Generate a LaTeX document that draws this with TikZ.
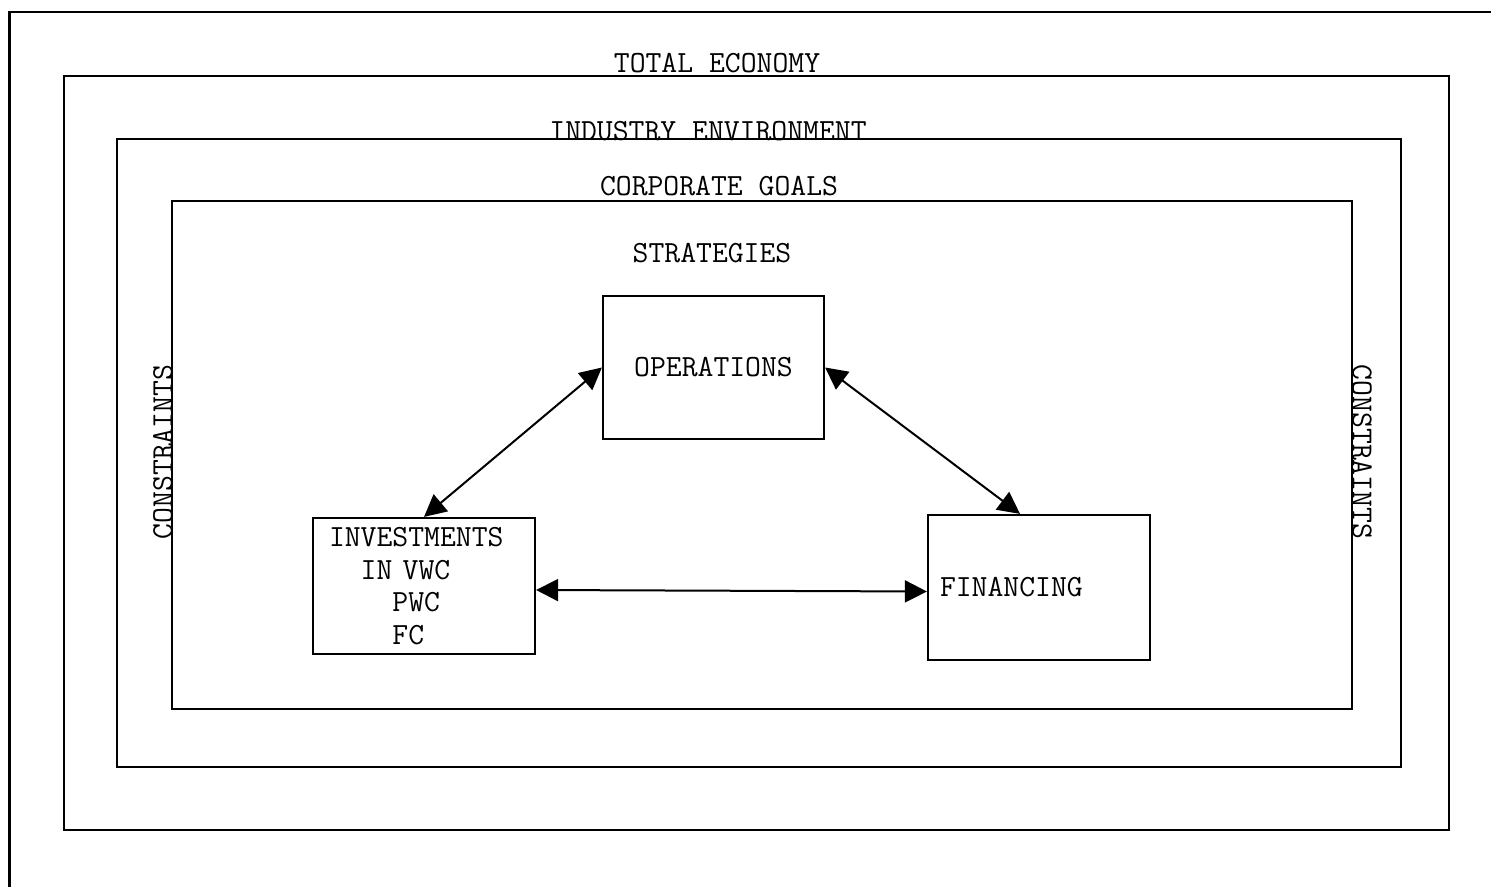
\documentclass[tikz,border=0pt]{standalone}
\usetikzlibrary{arrows.meta,calc}
\begin{document}
\begin{tikzpicture}[x=0.5pt,y=-0.5pt,
  frame/.style={line width=1.1pt},
  tw/.style={font=\fontsize{15.4}{16.3}\selectfont\ttfamily, inner sep=0pt},
  box/.style={draw, line width=1.1pt, tw, inner sep=0pt},
  link/.style={line width=1pt,
    {Triangle[length=11pt,width=11pt]}-{Triangle[length=11pt,width=11pt]}}]
\useasboundingbox (0,0) rectangle (1491,887);
\fill[white] (0,0) rectangle (1491,887);

% nested environment frames
\draw[frame] (1491,12) -- (9.5,12) -- (9.5,887);
\draw[frame] (64,76) rectangle (1449,830);
\draw[frame] (117,139) rectangle (1401,767);
\draw[frame] (172,201) rectangle (1352,709);

% frame labels
\node[tw] (econ) at (717,63) {TOTAL ECONOMY};
\node[tw] (ind) at (708,131) {INDUSTRY ENVIRONMENT};
\node[tw] (corp) at (719,186) {CORPORATE GOALS};
\node[tw] (strat) at (712,253) {STRATEGIES};
\node[tw, rotate=90] (conl) at (163,452) {CONSTRAINTS};
\node[tw, rotate=-90] (conr) at (1362,452) {CONSTRAINTS};

% decision areas
\node[box, minimum width=110.5pt, minimum height=71.5pt] (ops) at (713.5,367.5) {OPERATIONS};
\node[box, minimum width=111pt, minimum height=68pt, text width=95pt, align=left] (inv) at (424,586)
  {INVESTMENTS\\\phantom{II}IN VWC\\\phantom{IIII}PWC\\\phantom{IIII}FC};
\node[box, minimum width=111pt, minimum height=72.5pt, text width=99pt, align=left] (fin) at (1039,587.5) {FINANCING};

% interactions
\draw[link] (inv.north) -- (ops.west);
\draw[link] (ops.east) -- ([xshift=-9.5pt]fin.north);
\draw[link] ([yshift=-2pt]inv.east) -- ([yshift=-2pt]fin.west);
\end{tikzpicture}
\end{document}
